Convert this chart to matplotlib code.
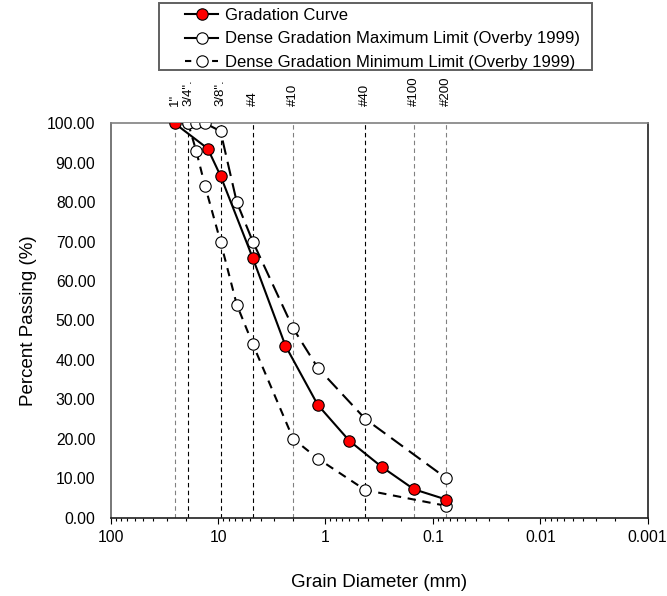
"""Gradation curve vs Overby (1999) dense gradation envelope."""

import matplotlib
matplotlib.use("Agg")
import matplotlib.pyplot as plt
from matplotlib.lines import Line2D
from matplotlib.patches import Rectangle
from matplotlib.ticker import FixedLocator, FuncFormatter, LogLocator, NullFormatter

plt.rcParams["font.family"] = ["Liberation Sans", "DejaVu Sans"]

# sample gradation
grad_size = [25.4, 12.5, 9.5, 4.75, 2.36, 1.18, 0.6, 0.3, 0.15, 0.075]
grad_pass = [100, 93.6, 86.7, 65.8, 43.6, 28.6, 19.5, 12.9, 7.2, 4.6]

# Overby 1999 dense gradation envelope
env_size = [19, 16, 13.2, 9.5, 6.7, 4.75, 2.0, 1.18, 0.425, 0.075]
max_pass = [100, 100, 100, 98, 80, 70, 48, 38, 25, 10]
min_pass = [100, 93, 84, 70, 54, 44, 20, 15, 7, 3]

# sieve reference lines
sieve_name = ['1"', '3/4".', '3/8".', "#4", "#10", "#40", "#100", "#200"]
sieve_size = [25.4, 19.0, 9.5, 4.75, 2.0, 0.425, 0.15, 0.075]
sieve_col = ["#808080", "black", "black", "black", "#808080", "black", "#808080", "#808080"]

y_ticks = list(range(0, 101, 10))
x_ticks = [100, 10, 1, 0.1, 0.01, 0.001]


def main():
    fig = plt.figure(figsize=(6.67, 5.96), dpi=100)
    ax = fig.add_axes([0.166, 0.1314, 0.805, 0.6617])

    for s, c in zip(sieve_size, sieve_col):
        ax.plot([s, s], [0, 100], color=c, lw=0.8, dashes=(4, 3), zorder=1)
    for s, n in zip(sieve_size, sieve_name):
        ax.annotate(n, (s, 100), xytext=(0, 12.5), textcoords="offset points",
                    rotation=90, ha="center", va="bottom", fontsize=9.5)

    mk = dict(marker="o", ms=8.2, mec="black", mew=0.8)
    ax.plot(env_size, min_pass, color="black", lw=1.5, dashes=(4, 3.2),
            mfc="white", zorder=3, **mk)
    ax.plot(env_size, max_pass, color="black", lw=1.5, dashes=(7, 3.5),
            mfc="white", zorder=3, **mk)
    ax.plot(grad_size, grad_pass, color="black", lw=1.5, mfc="red", zorder=4, **mk)

    ax.set_xscale("log")
    ax.set_xlim(100, 0.001)
    ax.set_ylim(0, 100)
    ax.xaxis.set_major_locator(FixedLocator(x_ticks))
    ax.xaxis.set_minor_locator(LogLocator(base=10, subs=range(2, 10)))
    ax.xaxis.set_minor_formatter(NullFormatter())
    ax.xaxis.set_major_formatter(FuncFormatter(lambda v, p: f"{v:g}"))
    ax.set_yticks(y_ticks)
    ax.yaxis.set_major_formatter(FuncFormatter(lambda v, p: f"{v:.2f}"))
    ax.tick_params(axis="x", which="major", direction="out", length=4, width=0.8,
                   labelsize=11.3, pad=5)
    ax.tick_params(axis="x", which="minor", direction="out", length=2.5, width=0.8)
    ax.tick_params(axis="y", length=0, labelsize=11.3, pad=11)

    for side, c in {"top": "#808080", "left": "#606060",
                    "right": "#202020", "bottom": "#202020"}.items():
        ax.spines[side].set_color(c)
        ax.spines[side].set_linewidth(1.2)

    ax.set_xlabel("Grain Diameter (mm)", fontsize=13.5, labelpad=21)
    ax.set_ylabel("Percent Passing (%)", fontsize=13.5, labelpad=7)

    # legend: box drawn separately so the entries can sit inset like the original
    fig.patches.append(Rectangle((0.2384, 0.8826), 0.649, 0.1124, transform=fig.transFigure,
                                 fill=False, edgecolor="#606060", lw=1.4))
    h = [Line2D([], [], color="black", lw=1.5, mfc="red", **mk),
         Line2D([], [], color="black", lw=1.5, mfc="white", **mk),
         Line2D([], [], color="black", lw=1.5, dashes=(3, 3.5), mfc="white", **mk)]
    labels = ["Gradation Curve",
              "Dense Gradation Maximum Limit (Overby 1999)",
              "Dense Gradation Minimum Limit (Overby 1999)"]
    fig.legend(h, labels, loc="upper left", bbox_to_anchor=(0.2774, 0.987),
               fontsize=12, frameon=False, handlelength=2.0, handletextpad=0.42,
               labelspacing=0.52, borderpad=0, borderaxespad=0)

    fig.savefig("out.png", dpi=100)


if __name__ == "__main__":
    main()
